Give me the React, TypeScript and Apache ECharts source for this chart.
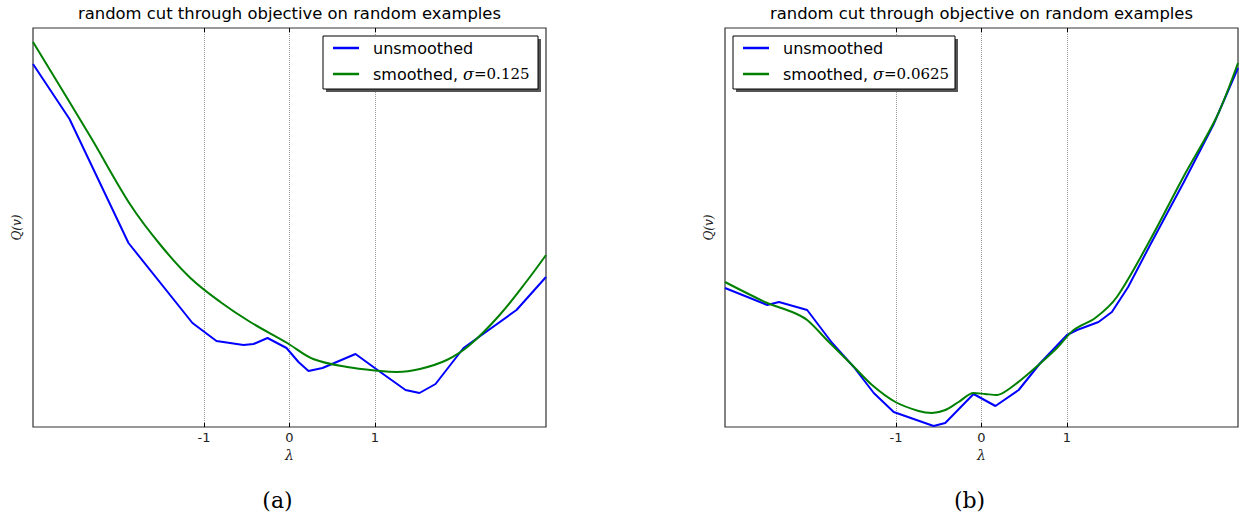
import React, { useEffect, useRef } from "react";
import * as echarts from "echarts";

// ---- data (x = λ, y = Q(v) in arbitrary units) ----
const xTicks = [-1, 0, 1];

const unsmoothedA: [number, number][] = [
  [-3.0, 363], [-2.573, 308], [-1.883, 184], [-1.135, 104], [-0.854, 86],
  [-0.538, 82], [-0.421, 83], [-0.257, 89], [-0.035, 79], [0.105, 65],
  [0.222, 56], [0.386, 59], [0.772, 73], [1.029, 57], [1.357, 37],
  [1.52, 34], [1.708, 43], [2.035, 79], [2.655, 117], [3.0, 150],
];

const smoothedA: [number, number][] = [
  [-3.0, 385], [-2.326, 290], [-1.859, 222], [-1.509, 182], [-1.159, 149],
  [-0.809, 125], [-0.459, 105], [-0.027, 84], [0.277, 68], [0.674, 60],
  [1.059, 56], [1.257, 55], [1.525, 58], [1.84, 67], [2.108, 82],
  [2.458, 112], [2.785, 147], [3.0, 172],
];

const unsmoothedB: [number, number][] = [
  [-3.0, 139], [-2.505, 122], [-2.369, 125], [-2.039, 117], [-1.747, 84],
  [-1.494, 60], [-1.26, 34], [-1.027, 15], [-0.56, 1], [-0.424, 4],
  [-0.093, 33], [0.163, 21], [0.435, 37], [0.688, 64], [1.0, 92],
  [1.117, 97], [1.369, 105], [1.525, 115], [1.715, 140], [1.972, 182],
  [2.361, 244], [2.711, 302], [3.0, 359],
];

const smoothedB: [number, number][] = [
  [-3.0, 145], [-2.505, 124], [-2.214, 115], [-2.039, 107], [-1.785, 85],
  [-1.513, 62], [-1.28, 42], [-1.007, 25], [-0.735, 16], [-0.58, 14],
  [-0.424, 17], [-0.268, 25], [-0.093, 34], [0.043, 33], [0.179, 32],
  [0.338, 39], [0.572, 55], [0.883, 79], [1.077, 97], [1.33, 109],
  [1.583, 130], [1.972, 187], [2.361, 250], [2.75, 310], [3.0, 364],
];

const titleText = "random cut through objective on random examples";
const seriesNamesA = ["unsmoothed", "smoothed, σ=0.125"];
const seriesNamesB = ["unsmoothed", "smoothed, σ=0.0625"];
const captions = ["(a)", "(b)"];
const yLabel = "Q(v)";
const xLabel = "λ";

const BLUE = "#0000ff";
const GREEN = "#008000";

const GRID_TOP = 28;
const GRID_H = 399;
const GRID_W = 513;
const GRID_LEFTS = [33, 725];

export default function App() {
  const ref = useRef<HTMLDivElement>(null);

  useEffect(() => {
    if (!ref.current) return;
    const chart = echarts.init(ref.current, undefined, { renderer: "svg" });

    const legendFormatter = (name: string) => {
      const i = name.indexOf("σ");
      if (i < 0) return name;
      const rest = name.slice(i + 1);
      return name.slice(0, i) + "{s|σ}{n|" + rest + "}";
    };

    const mkXAxis = (gridIndex: number, position: "bottom" | "top") => ({
      gridIndex,
      type: "value" as const,
      position,
      min: -3,
      max: 3,
      axisLine: { show: false },
      axisTick: {
        show: true,
        inside: true,
        length: 4,
        customValues: xTicks,
        lineStyle: { color: "#000", width: 1 },
      },
      axisLabel: {
        show: position === "bottom",
        customValues: xTicks,
        color: "#222",
        fontSize: 13,
        fontFamily: "DejaVu Sans",
        margin: 4,
        formatter: (v: number) => String(v),
      },
      splitLine: {
        show: position === "bottom",
        lineStyle: { type: "dotted" as const, color: "#999", width: 1 },
      },
    });

    const mkYAxis = (gridIndex: number) => ({
      gridIndex,
      type: "value" as const,
      min: 0,
      max: 399,
      axisLine: { show: false },
      axisTick: { show: false },
      axisLabel: { show: false },
      splitLine: { show: false },
    });

    const legendBoxes = [
      { x: 323, y: 36, w: 215, h: 53 },
      { x: 733, y: 36, w: 222, h: 53 },
    ];

    const graphic: any[] = [];
    legendBoxes.forEach((b) => {
      graphic.push({
        type: "rect",
        shape: { x: b.x + 3, y: b.y + 3, width: b.w, height: b.h },
        style: { fill: "#555" },
        z: 10,
      });
      graphic.push({
        type: "rect",
        shape: { x: b.x, y: b.y, width: b.w, height: b.h },
        style: { fill: "#fff", stroke: "#000", lineWidth: 1 },
        z: 11,
      });
    });
    GRID_LEFTS.forEach((gl, i) => {
      const cx = gl + GRID_W / 2;
      graphic.push({
        type: "text",
        x: cx,
        y: 13,
        style: {
          text: titleText,
          fontSize: 16.4,
          fontFamily: "DejaVu Sans",
          fill: "#000",
          align: "center",
          verticalAlign: "middle",
        },
      });
      graphic.push({
        type: "text",
        x: cx,
        y: 455,
        style: {
          text: xLabel,
          fontSize: 14,
          fontStyle: "italic",
          fontFamily: "DejaVu Serif",
          fill: "#222",
          align: "center",
          verticalAlign: "middle",
        },
      });
      graphic.push({
        type: "text",
        x: gl - 16,
        y: GRID_TOP + GRID_H / 2,
        rotation: Math.PI / 2,
        style: {
          text: yLabel,
          fontSize: 12,
          fontStyle: "italic",
          fontFamily: "DejaVu Serif",
          fill: "#222",
          align: "center",
          verticalAlign: "middle",
        },
      });
      graphic.push({
        type: "text",
        x: cx - 12,
        y: 500,
        style: {
          text: captions[i],
          fontSize: 22,
          fontFamily: "DejaVu Serif",
          fill: "#000",
          align: "center",
          verticalAlign: "middle",
        },
      });
    });

    const legendText = {
      fontSize: 16,
      fontFamily: "DejaVu Sans",
      color: "#000",
      padding: [0, 0, 0, 9],
      rich: {
        s: { fontSize: 16, fontStyle: "italic", fontFamily: "DejaVu Serif", color: "#000" },
        n: { fontSize: 15, fontFamily: "DejaVu Serif", color: "#000" },
      },
    };

    const mkLegend = (data: string[], left: number) => ({
      data,
      orient: "vertical",
      left,
      top: 40,
      icon: "rect",
      itemWidth: 26,
      itemHeight: 2.5,
      itemGap: 10,
      padding: 0,
      z: 20,
      selectedMode: false,
      formatter: legendFormatter,
      textStyle: legendText,
    });

    chart.setOption({
      animation: false,
      backgroundColor: "#fff",
      grid: GRID_LEFTS.map((l) => ({
        left: l,
        top: GRID_TOP,
        width: GRID_W,
        height: GRID_H,
        show: true,
        borderColor: "#333",
        borderWidth: 1.2,
        backgroundColor: "transparent",
        containLabel: false,
      })),
      xAxis: [mkXAxis(0, "bottom"), mkXAxis(0, "top"), mkXAxis(1, "bottom"), mkXAxis(1, "top")],
      yAxis: [mkYAxis(0), mkYAxis(1)],
      legend: [mkLegend(seriesNamesA, 333), mkLegend(seriesNamesB, 743)],
      series: [
        {
          name: seriesNamesA[0],
          type: "line",
          xAxisIndex: 0,
          yAxisIndex: 0,
          data: unsmoothedA,
          symbol: "none",
          color: BLUE,
          lineStyle: { color: BLUE, width: 2 },
        },
        {
          name: seriesNamesA[1],
          type: "line",
          xAxisIndex: 0,
          yAxisIndex: 0,
          data: smoothedA,
          symbol: "none",
          smooth: 0.35,
          color: GREEN,
          lineStyle: { color: GREEN, width: 2 },
        },
        {
          name: seriesNamesB[0],
          type: "line",
          xAxisIndex: 2,
          yAxisIndex: 1,
          data: unsmoothedB,
          symbol: "none",
          color: BLUE,
          lineStyle: { color: BLUE, width: 2 },
        },
        {
          name: seriesNamesB[1],
          type: "line",
          xAxisIndex: 2,
          yAxisIndex: 1,
          data: smoothedB,
          symbol: "none",
          smooth: 0.3,
          color: GREEN,
          lineStyle: { color: GREEN, width: 2 },
        },
      ],
      graphic,
    });

    return () => {
      chart.dispose();
    };
  }, []);

  return (
    <div
      ref={ref}
      style={{ position: "fixed", left: 0, top: 0, width: 1256, height: 518 }}
    />
  );
}
